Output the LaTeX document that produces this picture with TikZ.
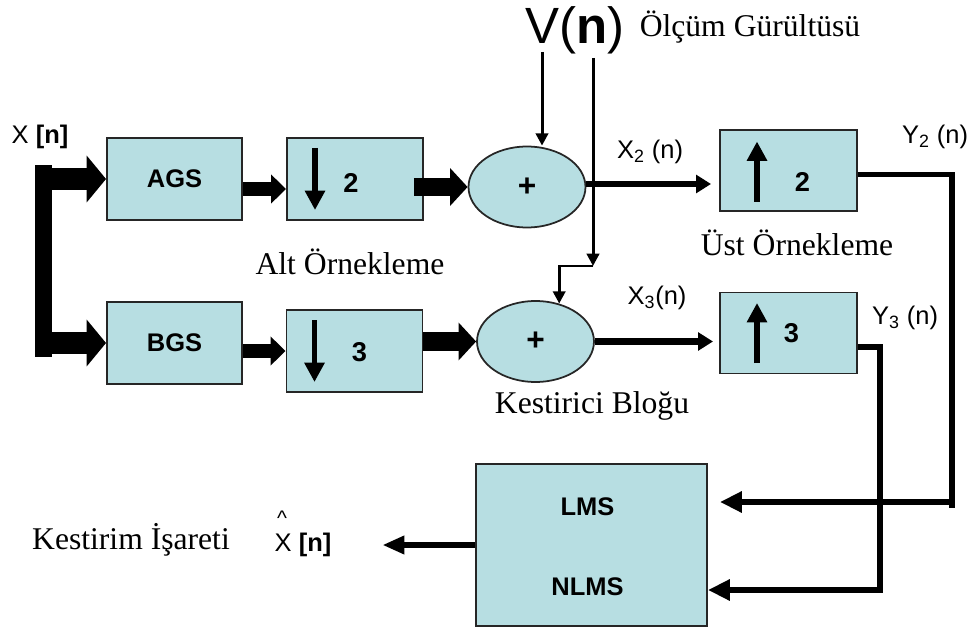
\documentclass[tikz,border=0pt]{standalone}
\usepackage{fontspec}
\setmainfont{Liberation Serif}
\setsansfont{Liberation Sans}
\usetikzlibrary{arrows.meta,positioning,calc,shapes.geometric}
\definecolor{kutumavi}{RGB}{183,222,226}
\tikzset{kutu/.style={draw=black!85, line width=1.1pt, fill=kutumavi, minimum width=2.72cm, minimum height=1.64cm, inner sep=0pt, font=\sffamily\bfseries\fontsize{14.5}{17}\selectfont}}
\tikzset{elips/.style={ellipse, draw=black!85, line width=1pt, fill=kutumavi, minimum width=2.34cm, minimum height=1.62cm, inner sep=0pt, font=\sffamily\bfseries\fontsize{18}{20}\selectfont}}
\tikzset{yazi/.style={font=\fontsize{18}{21}\selectfont}}
\tikzset{etiket/.style={font=\sffamily\fontsize{14.5}{17}\selectfont}}
\tikzset{rakam/.style={font=\sffamily\bfseries\fontsize{15.5}{17}\selectfont}}
\tikzset{cubuk/.style={fill=black, minimum width=0.34cm, minimum height=3.84cm, inner sep=0pt}}
\tikzset{genis/.style={draw, line width=13pt, -{Triangle[length=11pt, width=26pt]}}}
\tikzset{orta/.style={draw, line width=8.5pt, -{Triangle[length=8.5pt, width=16pt]}}}
\tikzset{toplam/.style={draw, line width=10.5pt, -{Triangle[length=10pt, width=21pt]}}}
\tikzset{ince/.style={draw, line width=1.7pt, -{Triangle[length=7pt, width=7pt]}}}
\tikzset{sinyal/.style={draw, line width=3pt, -{Triangle[length=8.5pt, width=10pt]}}}
\tikzset{kalin/.style={draw, line width=3.4pt, -{Triangle[length=12.5pt, width=11.5pt]}}}
\tikzset{ic/.style={draw, line width=3.4pt, -{Triangle[length=11pt, width=11pt]}}}

\begin{document}
\begin{tikzpicture}[x=0.02cm, y=-0.02cm]
\useasboundingbox (0,0) rectangle (980,628);
% giris
\node[cubuk] (cubuk) at (43.5,261) {};
\node[etiket] (xgiris) at (40,137) {X \textbf{[n]}};
\node[kutu, minimum width=2.7cm] (ags) at (174.5,179) {AGS};
\node[kutu, minimum width=2.7cm] (bgs) at (174.5,343) {BGS};
\draw[genis] (cubuk.center |- ags.west) -- (ags.west);
\draw[genis] (cubuk.center |- bgs.west) -- (bgs.west);

% alt ornekleme
\node[kutu] (asagi2) at (355,179) {};
\node[kutu] (asagi3) at (354.5,351) {};
\draw[ic] ($(asagi2.center)+(-40,-31)$) -- ($(asagi2.center)+(-40,31)$);
\draw[ic] ($(asagi3.center)+(-40,-31)$) -- ($(asagi3.center)+(-40,31)$);
\node[rakam] (r2) at ($(asagi2.center)+(-4,4)$) {2};
\node[rakam] (r3) at ($(asagi3.center)+(5,1)$) {3};
\node[yazi] (altyazi) at (350,262) {Alt Örnekleme};
\draw[orta] ($(ags.east)+(0,10)$) -- ($(asagi2.west)+(0,10)$);
\draw[orta] (bgs.east |- asagi3.west) -- (asagi3.west);

% toplayicilar
\node[elips] (top1) at (527,187) {+};
\node[elips] (top2) at (535.5,341.5) {+};
\draw[toplam] ($(asagi2.east |- top1.west)+(-10,0)$) -- (top1.west);
\draw[toplam] (asagi3.east |- top2.west) -- (top2.west);

% gurultu
\node[font=\sffamily\fontsize{29}{33}\selectfont] (vn) at (575,30) {V(\textbf{n})};
\node[yazi] (olcum) at (750,27) {Ölçüm Gürültüsü};
\coordinate (v1) at (542,52);
\coordinate (v2) at (593,58);
\coordinate (kose) at (593,266);
\draw[ince] (v1) -- (v1 |- top1.north);
\draw[ince] (v2) -- (kose);
\draw[ince] (kose) -| (top2.58);
\node[yazi] (kestyazi) at (592,406) {Kestirici Bloğu};

% ust ornekleme
\node[kutu, minimum width=2.74cm, minimum height=1.62cm] (yukari2) at (788.5,170.5) {};
\node[kutu, minimum width=2.74cm, minimum height=1.62cm] (yukari3) at (788.5,333) {};
\draw[ic] ($(yukari2.center)+(-31.5,31.5)$) -- ($(yukari2.center)+(-31.5,-29)$);
\draw[ic] ($(yukari3.center)+(-31.5,30)$) -- ($(yukari3.center)+(-31.5,-30)$);
\node[rakam] (r2u) at ($(yukari2.center)+(14,11.5)$) {2};
\node[rakam] (r3u) at ($(yukari3.center)+(3,0)$) {3};
\node[yazi] (ustyazi) at (797,243) {Üst Örnekleme};
\node[etiket] (x2) at (650,152) {X\textsubscript{2} (n)};
\node[etiket] (x3) at (657,298) {X\textsubscript{3}(n)};
\draw[sinyal] ($(top1.east)+(0,-3)$) -- ($(yukari2.west |- top1.east)+(-8,-3)$);
\draw[sinyal, line width=3.6pt] (top2.east) -- ($(yukari3.west |- top2.east)+(-6,0)$);

% kestirici
\node[kutu, minimum width=4.62cm, minimum height=3.24cm] (kestirici) at (591.5,545) {};
\node[font=\sffamily\bfseries\fontsize{14.5}{17}\selectfont] (lms) at ($(kestirici.center)+(-4,-38)$) {LMS};
\node[font=\sffamily\bfseries\fontsize{14.5}{17}\selectfont] (nlms) at ($(kestirici.center)+(-4,42)$) {NLMS};
\node[etiket] (y2) at (935,137) {Y\textsubscript{2} (n)};
\node[etiket] (y3) at (905,318) {Y\textsubscript{3} (n)};
\coordinate (y2k) at (952,502);
\coordinate (y3k) at (880,590);
\draw[kalin] ($(yukari2.east)+(0,4)$) -| (y2k) -- ($(kestirici.east |- y2k)+(12,0)$);
\draw[line width=3.4pt] (y2k) -- ++(0,6);
\draw[kalin] ($(yukari3.east)+(0,14)$) -| (y3k) -- (kestirici.east |- y3k);

% cikis
\node[etiket] (xhat) at (303,545) {X \textbf{[n]}};
\node[etiket, font=\sffamily\fontsize{12}{14}\selectfont] (sapka) at (282,518) {\textasciicircum};
\node[yazi] (isaret) at (131,540) {Kestirim İşareti};
\draw[sinyal, -{Triangle[length=12.5pt, width=10pt]}] (kestirici.west |- xhat) -- ($(xhat.east)+(45,0)$);
\end{tikzpicture}
\end{document}
